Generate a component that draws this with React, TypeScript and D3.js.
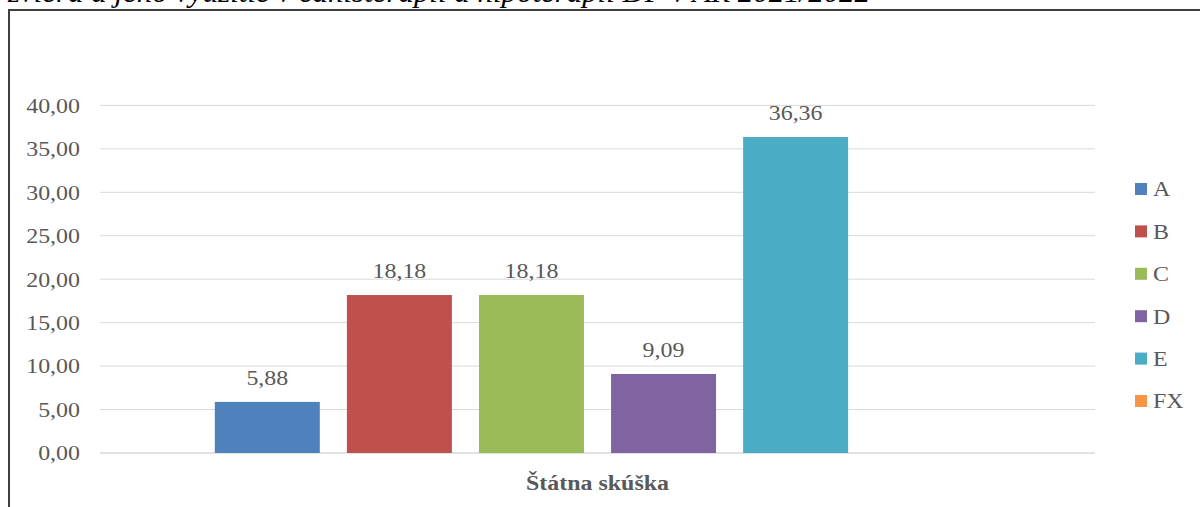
import * as d3 from "d3";

const TITLE = "zviera a jeho využitie v canisterapii a hipoterapii DF v AR 2021/2022";
const CATEGORY = "Štátna skúška";
const SERIES = ["A", "B", "C", "D", "E", "FX"];
const VALUES = [5.88, 18.18, 18.18, 9.09, 36.36, 0];
const COLORS = ["#4f81bd", "#c0504d", "#9bbb59", "#8064a2", "#4bacc6", "#f79646"];
const Y_TICKS = [0, 5, 10, 15, 20, 25, 30, 35, 40];

const W = 1200;
const H = 507;
const FONT = "Liberation Serif";
const TEXT = "#595959";
const STRETCH = 1.14; // the source picture is a bit wider than tall

const fmt = (v: number) => v.toFixed(2).replace(".", ",");

type LabelProps = {
  x: number;
  y: number;
  anchor?: "start" | "middle" | "end";
  bold?: boolean;
  children: string;
};

// text stretched horizontally around its anchor point
const Label = ({ x, y, anchor = "start", bold = false, children }: LabelProps) => (
  <text
    transform={`translate(${x},${y}) scale(${STRETCH},1)`}
    dy="0.35em"
    textAnchor={anchor}
    fontSize={21}
    fontWeight={bold ? "bold" : "normal"}
    fill={TEXT}
    fontFamily={FONT}
  >
    {children}
  </text>
);

export default function App() {
  const left = 100;
  const right = 1095;
  const top = 105.4;
  const bottom = 453;

  const y = d3.scaleLinear().domain([0, 40]).range([bottom, top]);

  // one category, series side by side inside it
  const x0 = d3.scaleBand().domain([CATEGORY]).range([left, right]).paddingOuter(0.15);
  const x1 = d3
    .scaleBand()
    .domain(SERIES)
    .range([x0(CATEGORY)!, x0(CATEGORY)! + x0.bandwidth()])
    .paddingInner(0.205);

  const grid = Y_TICKS.map((t) => (
    <g key={t}>
      <line x1={left} x2={right} y1={y(t)} y2={y(t)} stroke="#d9d9d9" strokeWidth={t === 0 ? 1.5 : 1} />
      <Label x={80} y={y(t)} anchor="end">{fmt(t)}</Label>
    </g>
  ));

  const bars = SERIES.map((s, i) => {
    const v = VALUES[i];
    const bx = x1(s)!;
    return (
      <g key={s}>
        <rect x={bx} y={y(v)} width={x1.bandwidth()} height={bottom - y(v)} fill={COLORS[i]} />
        {v > 0 && (
          <Label x={bx + x1.bandwidth() / 2} y={y(v) - 24} anchor="middle">{fmt(v)}</Label>
        )}
      </g>
    );
  });

  const legend = SERIES.map((s, i) => {
    const ly = 189 + i * 42.4;
    return (
      <g key={s}>
        <rect x={1135} y={ly - 6} width={12} height={12} fill={COLORS[i]} />
        <Label x={1153} y={ly}>{s}</Label>
      </g>
    );
  });

  return (
    <svg width={W} height={H} style={{ position: "absolute", left: 0, top: 0 }}>
      <rect width={W} height={H} fill="#fff" />
      <text x={8} y={2} fontSize={29} fontStyle="italic" fill="#000" fontFamily={FONT}
        textLength={862} lengthAdjust="spacingAndGlyphs">
        {TITLE}
      </text>
      <line x1={8} x2={W} y1={10} y2={10} stroke="#404040" strokeWidth={2} />
      <line x1={9} x2={9} y1={9} y2={H} stroke="#404040" strokeWidth={2} />
      {grid}
      {bars}
      <Label x={(left + right) / 2} y={483} anchor="middle" bold>{CATEGORY}</Label>
      {legend}
    </svg>
  );
}
